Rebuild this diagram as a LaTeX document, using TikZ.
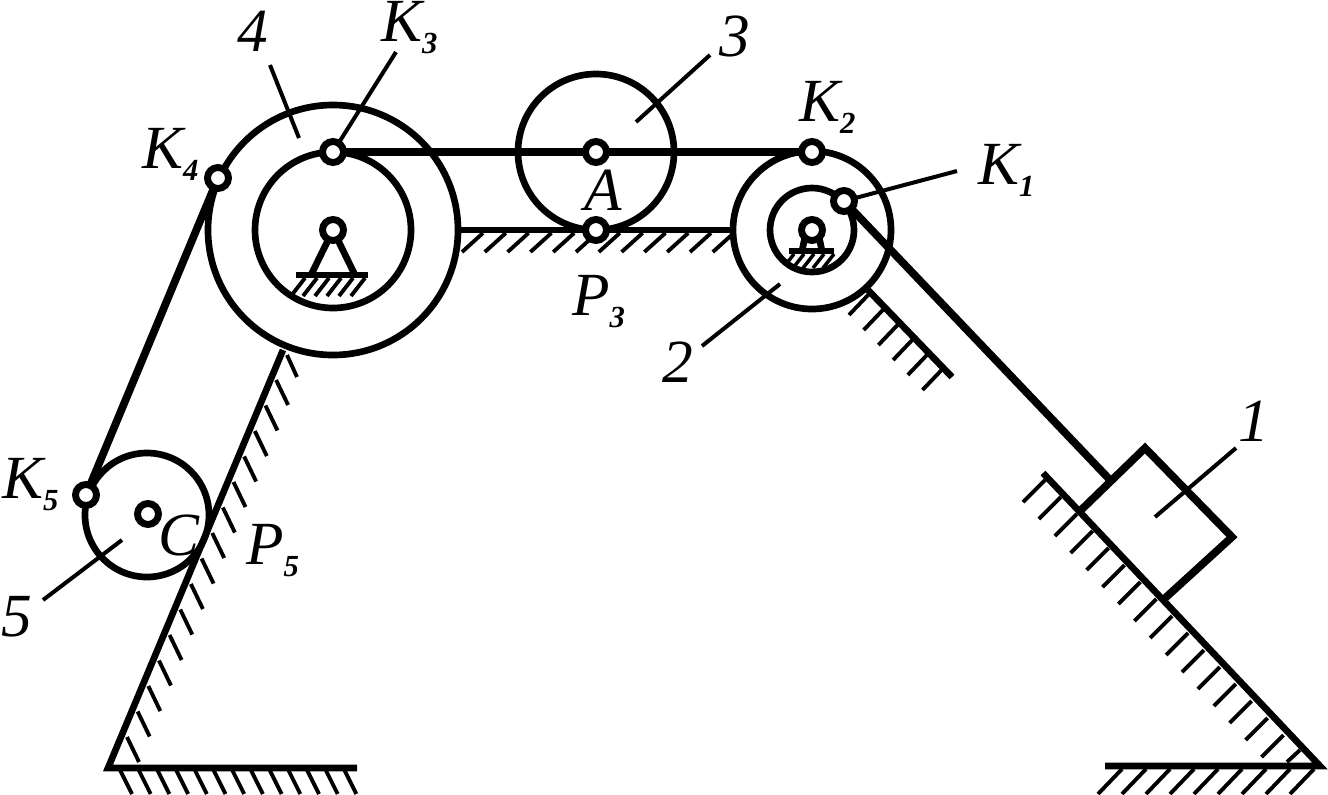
\documentclass[tikz,border=0pt]{standalone}
\usepackage{fontspec}
\setmainfont{Liberation Serif}
\newcommand{\lbl}[2]{\textit{#1\raisebox{-9.5pt}{\fontsize{23}{23}\selectfont\bfseries #2}}}
\tikzset{
  wheel/.style={circle,draw,line width=5pt,inner sep=0pt,minimum size=#1*0.75pt,outer sep=0pt},
  pin/.style={circle,draw,fill=white,line width=5.2pt,inner sep=0pt,minimum size=15.75pt,outer sep=0pt},
  heavy/.style={line width=5.8pt},
  ground/.style={line width=5pt},
  hatch/.style={line width=2.9pt},
  leader/.style={line width=3pt},
  tag/.style={font=\fontsize{46}{46}\selectfont\itshape,inner sep=0pt},
  basetag/.style={tag,anchor=base west}
}
\begin{document}
\begin{tikzpicture}[x=0.75pt,y=-0.75pt]
\useasboundingbox (0,0) rectangle (1328,794);
% wheels
\node[wheel=250] (w4) at (333,230) {};
\node[wheel=156] (w4i) at (333,230) {};
\node[wheel=156] (w3) at (596,152) {};
\node[wheel=158] (w2) at (812,230) {};
\node[wheel=84] (w2i) at (812,230) {};
\node[wheel=124] (w5) at (147,515) {};
% supports
\coordinate (b4l) at (296,275); \coordinate (b4r) at (368,275);
\draw[ground] (b4l) -- (b4r);
\coordinate (b2l) at (789,251); \coordinate (b2r) at (834,251);
\draw[ground] (b2l) -- (b2r);
\draw[ground] (311,275) -- (333,230) -- (355,275);
\draw[ground] (802,251) -- (806,232);
\draw[ground] (822,251) -- (818,232);
\foreach \x in {305,317,329,341,353,365} \draw[hatch] (\x,278) -- (\x-14,296);
\begin{scope}
\clip (w2i.center) circle [radius=40];
\foreach \x in {794,804,814,824,834} \draw[line width=2.6pt] (\x,254) -- (\x-11,268);
\end{scope}
% grounds
\coordinate (g3l) at (460,230); \coordinate (g3r) at (733,230);
\draw[ground] (g3l) -- (g3r);
\foreach \x in {0,...,11} \draw[hatch] (483+\x*22.8,233) -- (462+\x*22.8,252);
\coordinate (g5a) at (108,768); \coordinate (g5b) at (283,350);
\coordinate (g0r) at (357,768);
\draw[ground,line join=miter] (g5b) -- (g5a) -- (g0r);
\foreach \i in {0,...,14} \draw[hatch] (127+\i*10.65,737-\i*25.5) -- (139+\i*10.65,762-\i*25.5);
\draw[hatch] (287,355) -- (297,377);
\foreach \i in {0,...,12} \draw[hatch] (120+\i*18.7,770) -- (132+\i*18.7,794);
\coordinate (g2a) at (868,290); \coordinate (g2b) at (952,377);
\draw[ground] (g2a) -- (g2b);
\foreach \i in {0,...,5} \draw[hatch] (870+\i*14.7,293+\i*15) -- (849+\i*14.7,315+\i*15);
\coordinate (g1a) at (1043,473); \coordinate (g1c) at (1320,766); \coordinate (g0rr) at (1105,766);
\draw[ground,line join=miter] (g1a) -- (g1c) -- (g0rr);
\foreach \i in {0,...,15} \draw[hatch] (1045+\i*15.9,480+\i*17) -- (1023+\i*15.9,502+\i*17);
\draw[hatch] (1300,750) -- (1287,762);
\foreach \i in {0,...,8} \draw[hatch] (1122+\i*24,769) -- (1098+\i*24,794);
% block
\coordinate (bt) at (1145,448); \coordinate (br) at (1232,537);
\coordinate (bb) at (1163,600); \coordinate (bl) at (1078,513);
\draw[heavy,line join=miter] (bl) -- (bt) -- (br) -- (bb);
% pins
\node[pin] (k4) at (218,178) {};
\node[pin] (k3) at (333,152) {};
\node[pin] (k2) at (812,152) {};
\node[pin] (k1) at (844,201) {};
\node[pin] (k5) at (86,495) {};
\node[pin] (c) at (148,514) {};
\node[pin] (a) at (596,152) {};
\node[pin] (p3) at (596,230) {};
\node[pin] (o4) at (333,230) {};
\node[pin] (o2) at (812,230) {};
% connectors
\coordinate (rope) at (1112,482);
\draw[heavy] (k3) -- (a);
\draw[heavy] (a) -- (k2);
\draw[heavy] (k4) -- (k5);
\draw[heavy] (k1) -- (rope);
% leaders
\coordinate (l4a) at (270,65); \coordinate (l4b) at (299,138);
\draw[leader] (l4a) -- (l4b);
\coordinate (lk3) at (396,52);
\draw[leader] (k3) -- (lk3);
\coordinate (l3a) at (636,122); \coordinate (l3b) at (710,55);
\draw[leader] (l3a) -- (l3b);
\coordinate (l2a) at (702,346); \coordinate (l2b) at (780,284);
\draw[leader] (l2a) -- (l2b);
\coordinate (lk1) at (957,171);
\draw[leader] (k1) -- (lk1);
\coordinate (l1a) at (1155,517); \coordinate (l1b) at (1236,448);
\draw[leader] (l1a) -- (l1b);
\coordinate (l5a) at (43,600); \coordinate (l5b) at (122,540);
\draw[leader] (l5a) -- (l5b);
% labels
\node[tag] (t4) at (253,31) {4};
\node[basetag] (tk3) at (381,41) {\lbl{K}{3}};
\node[tag] (t3) at (735,36) {3};
\node[basetag] (tk2) at (799,121) {\lbl{K}{2}};
\node[basetag] (tk1) at (978,184) {\lbl{K}{1}};
\node[basetag] (tk4) at (142,168) {\lbl{K}{4}};
\node[basetag] (tk5) at (2,498) {\lbl{K}{5}};
\node[basetag] (ta) at (584,210) {A};
\node[basetag] (tp3) at (572,315) {\lbl{P}{3}};
\node[tag] (t2) at (678,362) {2};
\node[tag] (t1) at (1254,421) {1};
\node[tag] (t5) at (17,617) {5};
\node[basetag] (tc) at (158,555) {C};
\node[basetag] (tp5) at (246,564) {\lbl{P}{5}};
\end{tikzpicture}
\end{document}
